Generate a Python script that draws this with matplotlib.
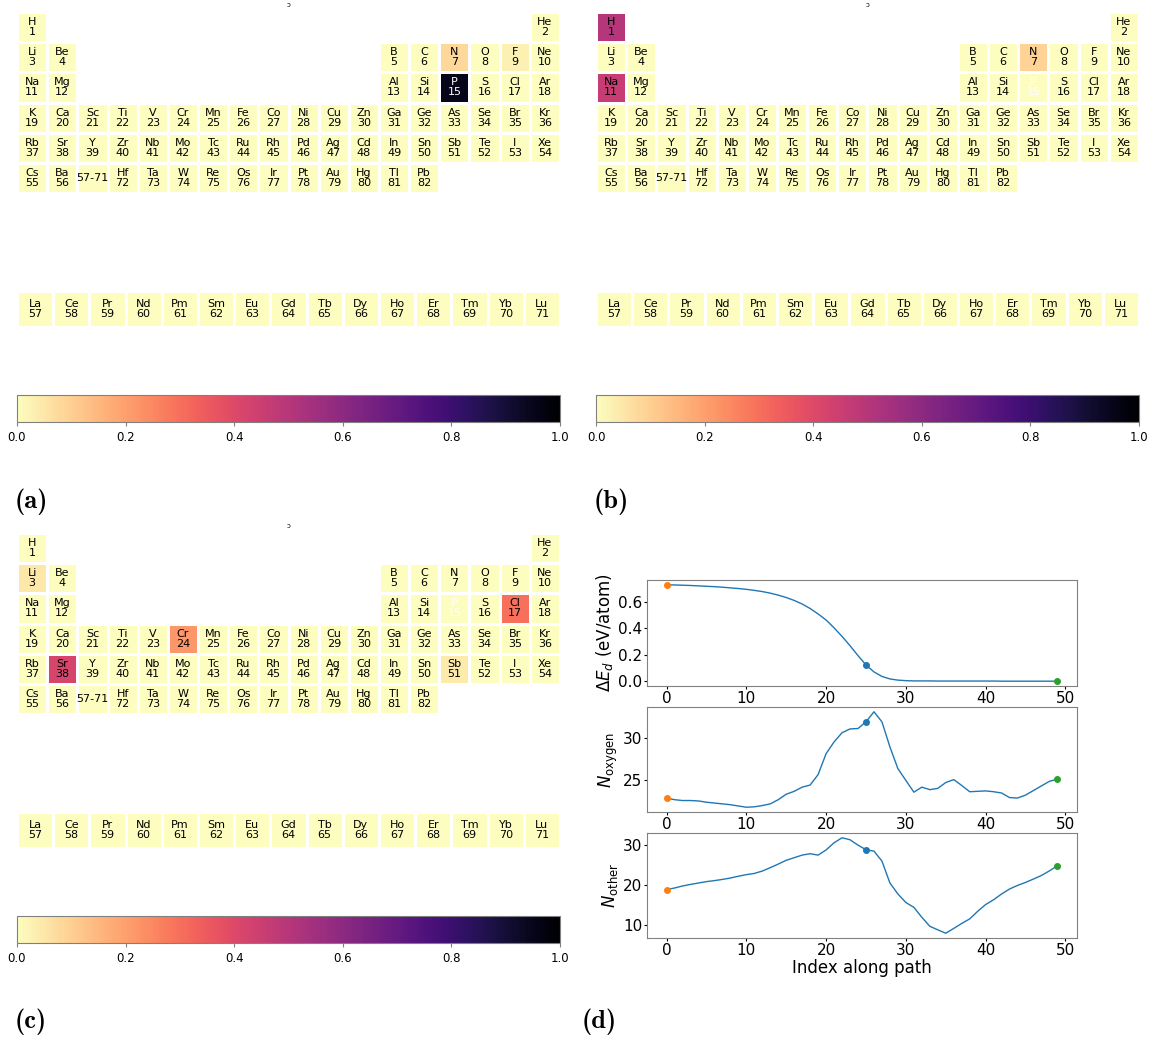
import numpy as np
import matplotlib
matplotlib.use("Agg")
import matplotlib.pyplot as plt
from matplotlib import cm, colors

# element symbols (main table: Z 1-56 and 72-82, lanthanides 57-71)
main_symbols = ("H He Li Be B C N O F Ne Na Mg Al Si P S Cl Ar "
                "K Ca Sc Ti V Cr Mn Fe Co Ni Cu Zn Ga Ge As Se Br Kr "
                "Rb Sr Y Zr Nb Mo Tc Ru Rh Pd Ag Cd In Sn Sb Te I Xe Cs Ba").split()
late_symbols = "Hf Ta W Re Os Ir Pt Au Hg Tl Pb".split()
lan_symbols = "La Ce Pr Nd Pm Sm Eu Gd Tb Dy Ho Er Tm Yb Lu".split()

# highlighted element values (everything else is 0)
vals_a = {"N": 0.08, "F": 0.03, "P": 0.95}
vals_b = {"H": 0.50, "Na": 0.46, "N": 0.09}
vals_c = {"Li": 0.05, "Cl": 0.30, "Cr": 0.22, "Sr": 0.42, "Sb": 0.04}
white_text = ["P"]

cbar_ticks = [0.0, 0.2, 0.4, 0.6, 0.8, 1.0]

# path data for panel (d)
path_idx = np.arange(50)
dE = [0.730, 0.729, 0.727, 0.725, 0.722, 0.719, 0.716, 0.712, 0.707, 0.702,
      0.696, 0.688, 0.679, 0.667, 0.652, 0.634, 0.612, 0.585, 0.551, 0.510,
      0.464, 0.405, 0.340, 0.270, 0.195, 0.125, 0.072, 0.038, 0.019, 0.010,
      0.006, 0.004, 0.004, 0.004, 0.003, 0.003, 0.003, 0.003, 0.003, 0.003,
      0.003, 0.003, 0.002, 0.002, 0.002, 0.002, 0.002, 0.002, 0.002, 0.002]
n_oxygen = [22.8, 22.6, 22.5, 22.5, 22.45, 22.3, 22.2, 22.1, 22.0, 21.85,
            21.7, 21.75, 21.9, 22.1, 22.6, 23.25, 23.6, 24.1, 24.35, 25.6,
            28.1, 29.5, 30.6, 31.05, 31.1, 31.9, 33.1, 31.9, 28.9, 26.3,
            24.9, 23.5, 24.1, 23.8, 23.95, 24.65, 25.0, 24.3, 23.55, 23.6,
            23.65, 23.55, 23.4, 22.85, 22.8, 23.15, 23.7, 24.25, 24.8, 25.05]
n_other = [18.83, 19.25, 19.75, 20.15, 20.5, 20.85, 21.1, 21.4, 21.75, 22.2,
           22.6, 22.9, 23.5, 24.35, 25.25, 26.2, 26.85, 27.5, 27.85, 27.5,
           28.8, 30.6, 31.85, 31.35, 30.0, 28.85, 28.5, 26.0, 20.5, 17.75,
           15.6, 14.4, 11.9, 9.65, 8.75, 7.9, 9.1, 10.35, 11.5, 13.4,
           15.1, 16.3, 17.75, 19.0, 19.9, 20.65, 21.5, 22.4, 23.55, 24.85]
marked = [0, 25, 49]
marked_colors = ["C1", "C0", "C2"]

W, H = 1153, 1044
fig = plt.figure(figsize=(W / 100, H / 100), dpi=100)
cmap = plt.get_cmap("magma_r")
norm = colors.Normalize(0, 1)


def px_axes(l, t, r, b):
    return fig.add_axes([l / W, 1 - b / H, (r - l) / W, (b - t) / H])


def position(z):
    # (row, col) in the 6x18 main grid
    if z == 1:
        return 0, 0
    if z == 2:
        return 0, 17
    if z <= 18:
        row = 1 if z <= 10 else 2
        k = z - (2 if row == 1 else 10)
        return row, (k - 1 if k <= 2 else k + 9)
    if z <= 36:
        return 3, z - 19
    if z <= 54:
        return 4, z - 37
    if z <= 56:
        return 5, z - 55
    return 5, z - 72 + 3


def draw_table(ox, oy, vals):
    ax = px_axes(ox + 17, oy + 12, ox + 560, oy + 193)
    grid = np.full((6, 18), np.nan)
    labels = []
    for i, s in enumerate(main_symbols):
        z = i + 1
        labels.append((s, z, position(z)))
    for i, s in enumerate(late_symbols):
        z = i + 72
        labels.append((s, z, position(z)))
    for s, z, (r, c) in labels:
        grid[r, c] = vals.get(s, 0.0)
    grid[5, 2] = 0.0
    ax.pcolormesh(np.ma.masked_invalid(grid), cmap=cmap, norm=norm,
                  edgecolors="white", linewidth=1.8)
    for s, z, (r, c) in labels:
        ax.text(c + 0.5, r + 0.5, f"{s}\n{z}", ha="center", va="center",
                fontsize=8, linespacing=1.0,
                color="white" if s in white_text else "black")
    ax.text(2.5, 5.5, "57-71", ha="center", va="center", fontsize=8)
    ax.set_xlim(0, 18)
    ax.set_ylim(6, 0)
    ax.axis("off")

    lax = px_axes(ox + 17, oy + 291, ox + 560, oy + 327)
    lrow = np.array([[vals.get(s, 0.0) for s in lan_symbols]])
    lax.pcolormesh(lrow, cmap=cmap, norm=norm, edgecolors="white", linewidth=1.8)
    for i, s in enumerate(lan_symbols):
        lax.text(i + 0.5, 0.5, f"{s}\n{57 + i}", ha="center", va="center",
                 fontsize=8, linespacing=1.0)
    lax.set_xlim(0, 15)
    lax.set_ylim(1, 0)
    lax.axis("off")

    cax = px_axes(ox + 17, oy + 395, ox + 560, oy + 422)
    cb = fig.colorbar(cm.ScalarMappable(norm=norm, cmap=cmap), cax=cax,
                      orientation="horizontal", ticks=cbar_ticks)
    cb.outline.set_edgecolor("0.5")
    cax.tick_params(labelsize=8.5, length=3, color="0.5")
    fig.text((ox + 288) / W, 1 - (oy + 5) / H, "ɔ", fontsize=5,
             ha="center", va="center")


draw_table(0, 0, vals_a)
draw_table(579, 0, vals_b)
draw_table(0, 521, vals_c)

# panel (d)
axes_d = [px_axes(647, 580, 1077, 686),
          px_axes(647, 707, 1077, 812),
          px_axes(647, 833, 1077, 938)]
series = [dE, n_oxygen, n_other]
ylabels = [r"$\Delta E_d$ (eV/atom)", r"$N_{\mathrm{oxygen}}$", r"$N_{\mathrm{other}}$"]
for ax, y, lab in zip(axes_d, series, ylabels):
    ax.plot(path_idx, y, color="C0", lw=1)
    for k, c in zip(marked, marked_colors):
        ax.plot(path_idx[k], y[k], "o", color=c, ms=4)
    ax.set_ylabel(lab, fontsize=12, labelpad=2)
    ax.tick_params(labelsize=11, length=2, pad=1.5)
    ax.set_xticks([0, 10, 20, 30, 40, 50])
    for sp in ax.spines.values():
        sp.set_edgecolor("0.5")
axes_d[0].set_yticks([0.0, 0.2, 0.4, 0.6])
axes_d[1].set_yticks([25, 30])
axes_d[2].set_yticks([10, 20, 30])
axes_d[2].set_xlabel("Index along path", fontsize=12, labelpad=1)

for lbl, x, y in [("(a)", 31, 502), ("(b)", 611, 502), ("(c)", 31, 1022), ("(d)", 599, 1022)]:
    fig.text(x / W, 1 - y / H, lbl, fontsize=19, fontfamily="cmb10",
             ha="center", va="center")

fig.savefig("out.png", dpi=100)
